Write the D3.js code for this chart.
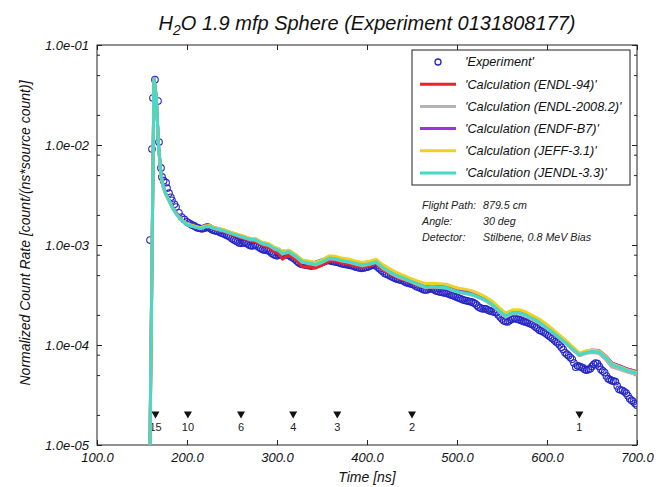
<!DOCTYPE html>
<html lang="en">
  <head>
    <meta charset="utf-8">
    <title>H2O 1.9 mfp Sphere</title>
    <script src="https://d3js.org/d3.v7.min.js"></script>
    <style>
      html, body { margin: 0; padding: 0; overflow: hidden; background: #fff; }
      svg { display: block; }
      text { font-family: "Liberation Sans", Arial, sans-serif; }
    </style>
  </head>
  <body>
    <script type="text/javascript">
      var w = 669;
      var h = 487;
      var margin = {top: 45, right: 32, bottom: 42, left: 97};
      var innerWidth = w - margin.left - margin.right;
      var innerHeight = h - margin.top - margin.bottom;

      // tick values / labels
      var xTickValues = [100, 200, 300, 400, 500, 600, 700];
      var xTickLabels = ["100.0", "200.0", "300.0", "400.0", "500.0", "600.0", "700.0"];
      var yTickValues = [1e-5, 1e-4, 1e-3, 1e-2, 1e-1];
      var yTickLabels = ["1.0e-05", "1.0e-04", "1.0e-03", "1.0e-02", "1.0e-01"];

      // energy markers (MeV) along the bottom
      var markerTime = [165, 201, 260, 318, 367, 450, 636];
      var markerLabel = ["15", "10", "6", "4", "3", "2", "1"];
      var markerLevel = 2e-5;

      // experiment
      var expTime = [158.9, 161.1, 162.2, 164.4, 167.8, 168.9, 171.1, 172.2, 174, 176.7,
        177.8, 180, 182, 183.3, 186, 187.8, 191, 194, 197,
        200, 202, 204, 206, 208, 210, 212, 214, 216, 218,
        220, 222, 224, 226, 228, 230, 232, 234, 236, 238,
        240, 242, 244, 246, 248, 250, 252, 254, 256, 258,
        260, 262, 264, 266, 268, 270, 272, 274, 276, 278,
        280, 282, 284, 286, 288, 290, 292, 294, 296, 298,
        300, 302, 304, 306, 308, 310, 312, 314, 316, 318,
        320, 322, 324, 326, 328, 330, 332, 334, 336, 338,
        340, 342, 344, 346, 348, 350, 352, 354, 356, 358,
        360, 362, 364, 366, 368, 370, 372, 374, 376, 378,
        380, 382, 384, 386, 388, 390, 392, 394, 396, 398,
        400, 402, 404, 406, 408, 410, 412, 414, 416, 418,
        420, 422, 424, 426, 428, 430, 432, 434, 436, 438,
        440, 442, 444, 446, 448, 450, 452, 454, 456, 458,
        460, 462, 464, 466, 468, 470, 472, 474, 476, 478,
        480, 482, 484, 486, 488, 490, 492, 494, 496, 498,
        500, 502, 504, 506, 508, 510, 512, 514, 516, 518,
        520, 522, 524, 526, 528, 530, 532, 534, 536, 538,
        540, 542, 544, 546, 548, 550, 552, 554, 556, 558,
        560, 562, 564, 566, 568, 570, 572, 574, 576, 578,
        580, 582, 584, 586, 588, 590, 592, 594, 596, 598,
        600, 602, 604, 606, 608, 610, 612, 614, 616, 618,
        620, 622, 624, 626, 628, 630, 632, 634, 636, 638,
        640, 642, 644, 646, 648, 650, 652, 654, 656, 658,
        660, 662, 664, 666, 668, 670, 672, 674, 676, 678,
        680, 682, 684, 686, 688, 690, 692, 694, 696, 698,
        700];
      var expRate = [1.12e-3, 9.1e-3, 2.95e-2, 4.5e-2, 2.75e-2, 1.07e-2, 5.9e-3, 4.8e-3, 4.4e-3, 4.2e-3,
        3.7e-3, 3.3e-3, 3.0e-3, 2.8e-3, 2.55e-3, 2.4e-3, 2.1e-3, 1.9e-3, 1.8e-3,
        1.70e-3, 1.66e-3, 1.62e-3, 1.58e-3, 1.55e-3, 1.51e-3, 1.48e-3, 1.47e-3, 1.45e-3, 1.46e-3,
        1.48e-3, 1.51e-3, 1.50e-3, 1.46e-3, 1.42e-3, 1.40e-3, 1.38e-3, 1.37e-3, 1.35e-3, 1.32e-3,
        1.30e-3, 1.28e-3, 1.25e-3, 1.23e-3, 1.20e-3, 1.16e-3, 1.13e-3, 1.10e-3, 1.08e-3, 1.05e-3,
        1.04e-3, 1.05e-3, 1.06e-3, 1.04e-3, 1.02e-3, 9.9e-4, 9.8e-4, 9.9e-4, 1.0e-3, 9.8e-4,
        9.5e-4, 9.2e-4, 9.0e-4, 8.9e-4, 8.9e-4, 8.8e-4, 8.6e-4, 8.3e-4, 8.1e-4, 7.9e-4,
        7.8e-4, 7.9e-4, 8.0e-4, 8.2e-4, 8.2e-4, 8.1e-4, 7.9e-4, 7.8e-4, 7.6e-4, 7.4e-4,
        7.2e-4, 6.9e-4, 6.7e-4, 6.5e-4, 6.4e-4, 6.35e-4, 6.3e-4, 6.25e-4, 6.2e-4, 6.15e-4,
        6.2e-4, 6.3e-4, 6.4e-4, 6.5e-4, 6.6e-4, 6.7e-4, 6.8e-4, 6.9e-4, 7.0e-4, 7.0e-4,
        6.9e-4, 6.85e-4, 6.8e-4, 6.75e-4, 6.7e-4, 6.6e-4, 6.5e-4, 6.45e-4, 6.4e-4, 6.35e-4,
        6.3e-4, 6.25e-4, 6.2e-4, 6.1e-4, 6.0e-4, 5.95e-4, 5.9e-4, 5.85e-4, 5.9e-4, 5.95e-4,
        6.0e-4, 6.1e-4, 6.2e-4, 6.3e-4, 6.3e-4, 6.2e-4, 6.0e-4, 5.8e-4, 5.6e-4, 5.4e-4,
        5.2e-4, 5.1e-4, 5.0e-4, 4.9e-4, 4.8e-4, 4.7e-4, 4.6e-4, 4.55e-4, 4.5e-4, 4.45e-4,
        4.4e-4, 4.3e-4, 4.2e-4, 4.15e-4, 4.1e-4, 4.05e-4, 4.0e-4, 3.9e-4, 3.8e-4, 3.75e-4,
        3.7e-4, 3.6e-4, 3.55e-4, 3.55e-4, 3.6e-4, 3.65e-4, 3.65e-4, 3.6e-4, 3.5e-4, 3.45e-4,
        3.4e-4, 3.38e-4, 3.35e-4, 3.32e-4, 3.3e-4, 3.25e-4, 3.2e-4, 3.15e-4, 3.1e-4, 3.05e-4,
        3.0e-4, 2.95e-4, 2.9e-4, 2.85e-4, 2.8e-4, 2.78e-4, 2.75e-4, 2.72e-4, 2.7e-4, 2.65e-4,
        2.6e-4, 2.5e-4, 2.4e-4, 2.35e-4, 2.3e-4, 2.3e-4, 2.3e-4, 2.25e-4, 2.2e-4, 2.18e-4,
        2.15e-4, 2.12e-4, 2.1e-4, 2.0e-4, 1.9e-4, 1.82e-4, 1.75e-4, 1.72e-4, 1.7e-4, 1.75e-4,
        1.8e-4, 1.83e-4, 1.85e-4, 1.82e-4, 1.8e-4, 1.78e-4, 1.75e-4, 1.72e-4, 1.7e-4, 1.68e-4,
        1.65e-4, 1.62e-4, 1.6e-4, 1.55e-4, 1.5e-4, 1.45e-4, 1.4e-4, 1.38e-4, 1.35e-4, 1.32e-4,
        1.28e-4, 1.24e-4, 1.2e-4, 1.16e-4, 1.12e-4, 1.08e-4, 1.05e-4, 1.0e-4, 9.5e-5, 9.0e-5,
        8.4e-5, 8.1e-5, 7.8e-5, 7.5e-5, 7.2e-5, 6.6e-5, 6.0e-5, 6.2e-5, 6.1e-5, 6.0e-5,
        5.9e-5, 5.7e-5, 5.6e-5, 5.7e-5, 5.8e-5, 6.1e-5, 6.4e-5, 6.6e-5, 6.5e-5, 6.1e-5,
        5.7e-5, 5.5e-5, 5.3e-5, 4.9e-5, 4.6e-5, 4.5e-5, 4.4e-5, 4.35e-5, 4.3e-5, 3.9e-5,
        3.6e-5, 3.55e-5, 3.5e-5, 3.4e-5, 3.3e-5, 3.1e-5, 2.9e-5, 2.8e-5, 2.7e-5, 2.6e-5,
        2.5e-5];

      // calculations, common time grid
      var calcTime = [158.5, 163.3, 165.8, 168.5, 171, 173, 176, 180, 184, 188, 192, 196, 200, 205, 210, 215, 220, 225, 230, 240, 250, 260, 270, 276,
        283, 291, 297, 302, 306, 313, 321, 328, 336, 343, 350, 358, 365, 372, 380, 388, 395, 403, 410, 417, 425, 432, 440, 447,
        455, 465, 472, 480, 488, 495, 502, 510, 517, 525, 532, 540, 547, 554, 561, 569, 576, 583, 591, 599, 606, 613, 621, 628, 636, 643, 650, 658, 666, 672, 680, 688, 694, 700];
      var endl94 = [5e-6, 4.5e-2, 3.0e-2, 9.6e-3, 5.3e-3, 4.0e-3, 3.3e-3, 2.8e-3, 2.4e-3, 2.1e-3, 1.9e-3, 1.72e-3, 1.6e-3, 1.56e-3, 1.52e-3, 1.48e-3, 1.55e-3, 1.52e-3, 1.45e-3, 1.38e-3, 1.27e-3, 1.19e-3, 1.1e-3, 1.08e-3,
        1.0e-3, 9.4e-4, 8.6e-4, 8.2e-4, 7.2e-4, 8.0e-4, 7.1e-4, 6.1e-4, 6.0e-4, 5.9e-4, 6.3e-4, 6.9e-4, 6.9e-4, 6.6e-4, 6.4e-4, 6.1e-4, 6.0e-4, 6.2e-4, 6.5e-4, 5.7e-4, 5.2e-4, 4.8e-4, 4.5e-4, 4.3e-4,
        4.0e-4, 3.75e-4, 3.8e-4, 3.75e-4, 3.7e-4, 3.5e-4, 3.4e-4, 3.3e-4, 3.2e-4, 3.0e-4, 2.8e-4, 2.5e-4, 2.2e-4, 1.95e-4, 2.1e-4, 2.1e-4, 2.0e-4, 1.85e-4, 1.7e-4, 1.5e-4, 1.35e-4, 1.2e-4, 1.05e-4, 9.2e-5, 8.0e-5, 8.4e-5, 8.7e-5, 8.6e-5, 7.6e-5, 6.6e-5, 6.2e-5, 5.8e-5, 5.6e-5, 5.4e-5];
      var endl2008 = [5e-6, 4.6e-2, 3.0e-2, 9.4e-3, 5.1e-3, 3.9e-3, 3.25e-3, 2.75e-3, 2.3e-3, 2.05e-3, 1.85e-3, 1.7e-3, 1.6e-3, 1.54e-3, 1.5e-3, 1.46e-3, 1.52e-3, 1.53e-3, 1.46e-3, 1.39e-3, 1.29e-3, 1.21e-3, 1.13e-3, 1.12e-3,
        1.03e-3, 9.9e-4, 9.1e-4, 8.8e-4, 8.1e-4, 8.5e-4, 7.6e-4, 6.7e-4, 6.5e-4, 6.3e-4, 6.7e-4, 7.3e-4, 7.2e-4, 6.9e-4, 6.7e-4, 6.4e-4, 6.2e-4, 6.4e-4, 6.7e-4, 5.9e-4, 5.3e-4, 4.9e-4, 4.6e-4, 4.35e-4,
        4.05e-4, 3.75e-4, 3.8e-4, 3.75e-4, 3.7e-4, 3.5e-4, 3.35e-4, 3.25e-4, 3.15e-4, 2.95e-4, 2.75e-4, 2.45e-4, 2.15e-4, 1.9e-4, 2.05e-4, 2.05e-4, 1.95e-4, 1.8e-4, 1.65e-4, 1.48e-4, 1.32e-4, 1.18e-4, 1.03e-4, 9.0e-5, 7.8e-5, 8.2e-5, 8.4e-5, 8.2e-5, 7.0e-5, 6.0e-5, 5.7e-5, 5.4e-5, 5.2e-5, 5.0e-5];
      var endfb7 = [5e-6, 4.7e-2, 3.1e-2, 9.6e-3, 5.3e-3, 4.05e-3, 3.35e-3, 2.85e-3, 2.4e-3, 2.1e-3, 1.88e-3, 1.73e-3, 1.63e-3, 1.57e-3, 1.52e-3, 1.48e-3, 1.55e-3, 1.56e-3, 1.49e-3, 1.42e-3, 1.32e-3, 1.24e-3, 1.16e-3, 1.15e-3,
        1.06e-3, 1.02e-3, 9.4e-4, 9.1e-4, 8.4e-4, 8.8e-4, 7.9e-4, 7.0e-4, 6.8e-4, 6.6e-4, 7.0e-4, 7.6e-4, 7.5e-4, 7.2e-4, 7.0e-4, 6.7e-4, 6.5e-4, 6.7e-4, 7.0e-4, 6.2e-4, 5.6e-4, 5.2e-4, 4.85e-4, 4.55e-4,
        4.25e-4, 3.95e-4, 4.0e-4, 3.95e-4, 3.9e-4, 3.7e-4, 3.55e-4, 3.45e-4, 3.35e-4, 3.12e-4, 2.9e-4, 2.6e-4, 2.28e-4, 2.02e-4, 2.18e-4, 2.18e-4, 2.08e-4, 1.92e-4, 1.77e-4, 1.56e-4, 1.4e-4, 1.24e-4, 1.08e-4, 9.5e-5, 8.2e-5, 8.6e-5, 8.9e-5, 8.8e-5, 7.7e-5, 6.6e-5, 6.2e-5, 5.8e-5, 5.6e-5, 5.4e-5];
      var jeff31 = [5e-6, 4.6e-2, 3.0e-2, 9.4e-3, 5.1e-3, 3.95e-3, 3.3e-3, 2.8e-3, 2.35e-3, 2.05e-3, 1.86e-3, 1.72e-3, 1.63e-3, 1.58e-3, 1.53e-3, 1.49e-3, 1.55e-3, 1.57e-3, 1.5e-3, 1.43e-3, 1.33e-3, 1.25e-3, 1.17e-3, 1.16e-3,
        1.07e-3, 1.03e-3, 9.5e-4, 9.2e-4, 8.5e-4, 8.9e-4, 8.0e-4, 7.1e-4, 6.9e-4, 6.7e-4, 7.1e-4, 7.8e-4, 7.7e-4, 7.4e-4, 7.2e-4, 6.9e-4, 6.7e-4, 6.9e-4, 7.2e-4, 6.4e-4, 5.8e-4, 5.35e-4, 5.0e-4, 4.7e-4,
        4.4e-4, 4.1e-4, 4.15e-4, 4.1e-4, 4.05e-4, 3.85e-4, 3.7e-4, 3.6e-4, 3.48e-4, 3.25e-4, 3.02e-4, 2.7e-4, 2.36e-4, 2.08e-4, 2.24e-4, 2.25e-4, 2.15e-4, 1.99e-4, 1.83e-4, 1.62e-4, 1.45e-4, 1.28e-4, 1.11e-4, 9.7e-5, 8.3e-5, 8.7e-5, 8.9e-5, 8.7e-5, 7.6e-5, 6.5e-5, 6.1e-5, 5.7e-5, 5.5e-5, 5.3e-5];
      var jendl33 = [5e-6, 4.6e-2, 3.0e-2, 9.5e-3, 5.2e-3, 4.0e-3, 3.3e-3, 2.8e-3, 2.35e-3, 2.05e-3, 1.85e-3, 1.7e-3, 1.6e-3, 1.55e-3, 1.5e-3, 1.46e-3, 1.52e-3, 1.54e-3, 1.47e-3, 1.4e-3, 1.3e-3, 1.22e-3, 1.14e-3, 1.13e-3,
        1.04e-3, 1.0e-3, 9.2e-4, 8.9e-4, 8.2e-4, 8.6e-4, 7.7e-4, 6.8e-4, 6.6e-4, 6.4e-4, 6.8e-4, 7.4e-4, 7.3e-4, 7.0e-4, 6.8e-4, 6.5e-4, 6.3e-4, 6.5e-4, 6.8e-4, 6.0e-4, 5.4e-4, 5.0e-4, 4.7e-4, 4.4e-4,
        4.1e-4, 3.8e-4, 3.85e-4, 3.8e-4, 3.75e-4, 3.55e-4, 3.4e-4, 3.3e-4, 3.2e-4, 3.0e-4, 2.8e-4, 2.5e-4, 2.2e-4, 1.95e-4, 2.1e-4, 2.1e-4, 2.0e-4, 1.85e-4, 1.7e-4, 1.5e-4, 1.35e-4, 1.2e-4, 1.05e-4, 9.2e-5, 8.0e-5, 8.4e-5, 8.6e-5, 8.5e-5, 7.4e-5, 6.4e-5, 6.0e-5, 5.6e-5, 5.4e-5, 5.2e-5];

      var seriesNames = ["'Calculation (ENDL-94)'", "'Calculation (ENDL-2008.2)'", "'Calculation (ENDF-B7)'",
                         "'Calculation (JEFF-3.1)'", "'Calculation (JENDL-3.3)'"];
      var seriesValues = [endl94, endl2008, endfb7, jeff31, jendl33];
      var seriesColors = ["#e8232b", "#b4b4b4", "#9933dd", "#f0d020", "#45d9c8"];
      var expColor = "#2626c4";

      var xScale = d3.scaleLinear().domain([100, 700]).range([0, innerWidth]);
      var yScale = d3.scaleLog().domain([1e-5, 1e-1]).range([innerHeight, 0]);

      var svg = d3.select("body").append("svg")
          .attr("width", w)
          .attr("height", h)
          .attr("viewBox", `0 0 ${w} ${h}`);

      // title with subscript
      var title = svg.append("text")
          .attr("x", margin.left + innerWidth / 2)
          .attr("y", 30)
          .attr("text-anchor", "middle")
          .attr("font-size", 20)
          .attr("font-style", "italic")
          .attr("fill", "#111");
      title.append("tspan").text("H");
      title.append("tspan").attr("dy", 5).attr("font-size", 14).text("2");
      title.append("tspan").attr("dy", -5).text("O 1.9 mfp Sphere (Experiment 0131808177)");

      var g = svg.append("g")
          .attr("transform", `translate(${margin.left},${margin.top})`);

      svg.append("defs").append("clipPath").attr("id", "plotclip")
        .append("rect").attr("width", innerWidth).attr("height", innerHeight);

      // minor log ticks at 2, 5, 8 of every decade
      var minorTicks = [];
      [1e-5, 1e-4, 1e-3, 1e-2].forEach(function(d) {
        [2, 5, 8].forEach(function(m) { minorTicks.push(d * m); });
      });

      function styleAxis(sel) {
        sel.select(".domain").remove();
        sel.selectAll("line").attr("stroke", "#222");
        sel.attr("font-family", '"Liberation Sans", Arial, sans-serif')
           .attr("font-size", 13)
           .attr("font-style", "italic");
        sel.selectAll("text").attr("fill", "#111");
      }

      var xAxis = d3.axisBottom(xScale).tickValues(xTickValues)
          .tickFormat(function(d, i) { return xTickLabels[i]; })
          .tickSizeInner(-5).tickSizeOuter(0).tickPadding(8);
      g.append("g").attr("transform", `translate(0,${innerHeight})`).call(xAxis).call(styleAxis);

      var xTop = d3.axisTop(xScale).tickValues(xTickValues).tickFormat("")
          .tickSizeInner(-5).tickSizeOuter(0);
      g.append("g").call(xTop).call(styleAxis);

      var yAxis = d3.axisLeft(yScale).tickValues(yTickValues)
          .tickFormat(function(d, i) { return yTickLabels[i]; })
          .tickSizeInner(-5).tickSizeOuter(0).tickPadding(8);
      g.append("g").call(yAxis).call(styleAxis);
      g.append("g").call(d3.axisLeft(yScale).tickValues(minorTicks).tickFormat("").tickSizeInner(-3).tickSizeOuter(0)).call(styleAxis);

      var yRight = d3.axisRight(yScale).tickValues(yTickValues).tickFormat("").tickSizeInner(-5).tickSizeOuter(0);
      g.append("g").attr("transform", `translate(${innerWidth},0)`).call(yRight).call(styleAxis);
      g.append("g").attr("transform", `translate(${innerWidth},0)`)
        .call(d3.axisRight(yScale).tickValues(minorTicks).tickFormat("").tickSizeInner(-3).tickSizeOuter(0)).call(styleAxis);

      // frame
      g.append("rect")
          .attr("width", innerWidth)
          .attr("height", innerHeight)
          .attr("fill", "none")
          .attr("stroke", "#222")
          .attr("stroke-width", 1);

      // axis titles
      svg.append("text")
          .attr("transform", `translate(25,${margin.top + 188}) rotate(-90)`)
          .attr("text-anchor", "middle")
          .attr("dy", "0.35em")
          .attr("font-size", 14)
          .attr("font-style", "italic")
          .attr("fill", "#111")
          .text("Normalized Count Rate [count/(ns*source count)]");
      svg.append("text")
          .attr("x", margin.left + innerWidth / 2)
          .attr("y", 482)
          .attr("text-anchor", "middle")
          .attr("font-size", 14)
          .attr("font-style", "italic")
          .attr("fill", "#111")
          .text("Time [ns]");

      // energy markers
      var markers = g.append("g");
      markers.selectAll("path")
          .data(markerTime)
          .enter()
          .append("path")
          .attr("d", function(d) {
            var cx = xScale(d), cy = yScale(markerLevel);
            return `M${cx - 4},${cy - 3.5}L${cx + 4},${cy - 3.5}L${cx},${cy + 3.5}Z`;
          })
          .attr("fill", "#111");
      markers.selectAll("text")
          .data(markerTime)
          .enter()
          .append("text")
          .attr("x", function(d) { return xScale(d); })
          .attr("y", function(d) { return yScale(markerLevel) + 16; })
          .attr("text-anchor", "middle")
          .attr("font-size", 11)
          .attr("fill", "#222")
          .text(function(d, i) { return markerLabel[i]; });

      var plot = g.append("g").attr("clip-path", "url(#plotclip)");

      // experiment circles
      plot.selectAll("circle")
          .data(expTime)
          .enter()
          .append("circle")
          .attr("cx", function(d) { return xScale(d); })
          .attr("cy", function(d, i) { return yScale(expRate[i]); })
          .attr("r", 3.3)
          .attr("fill", "none")
          .attr("stroke", expColor)
          .attr("stroke-width", 1.1);

      // calculation lines
      var line = d3.line()
          .x(function(d, i) { return xScale(calcTime[i]); })
          .y(function(d) { return yScale(d); });
      seriesValues.forEach(function(vals, k) {
        plot.append("path")
            .attr("d", line(vals))
            .attr("fill", "none")
            .attr("stroke", seriesColors[k])
            .attr("stroke-width", 3)
            .attr("stroke-linejoin", "round");
      });

      // legend
      var lx = 412, ly = 50;
      var legend = svg.append("g");
      legend.append("rect")
          .attr("x", lx).attr("y", ly)
          .attr("width", 218).attr("height", 135)
          .attr("fill", "#fff")
          .attr("stroke", "#222");
      var rows = ["'Experiment'"].concat(seriesNames);
      rows.forEach(function(name, i) {
        var ry = ly + 12 + i * 22.2;
        if (i === 0) {
          legend.append("circle").attr("cx", lx + 26).attr("cy", ry).attr("r", 3)
              .attr("fill", "none").attr("stroke", expColor).attr("stroke-width", 1.3);
        } else {
          legend.append("line").attr("x1", lx + 8).attr("x2", lx + 44)
              .attr("y1", ry).attr("y2", ry)
              .attr("stroke", seriesColors[i - 1]).attr("stroke-width", 3);
        }
        legend.append("text")
            .attr("x", lx + 53).attr("y", ry)
            .attr("dy", "0.35em")
            .attr("font-size", 12.7)
            .attr("font-style", "italic")
            .attr("fill", "#111")
            .text(name);
      });

      // run info
      var infoKeys = ["Flight Path:", "Angle:", "Detector:"];
      var infoVals = ["879.5 cm", "30 deg", "Stilbene, 0.8 MeV Bias"];
      infoKeys.forEach(function(k, i) {
        svg.append("text").attr("x", 422).attr("y", 205 + i * 16).attr("dy", "0.35em")
            .attr("font-size", 10.7).attr("font-style", "italic").attr("fill", "#222").text(k);
        svg.append("text").attr("x", 483).attr("y", 205 + i * 16).attr("dy", "0.35em")
            .attr("font-size", 10.7).attr("font-style", "italic").attr("fill", "#222").text(infoVals[i]);
      });
    </script>
  </body>
</html>
